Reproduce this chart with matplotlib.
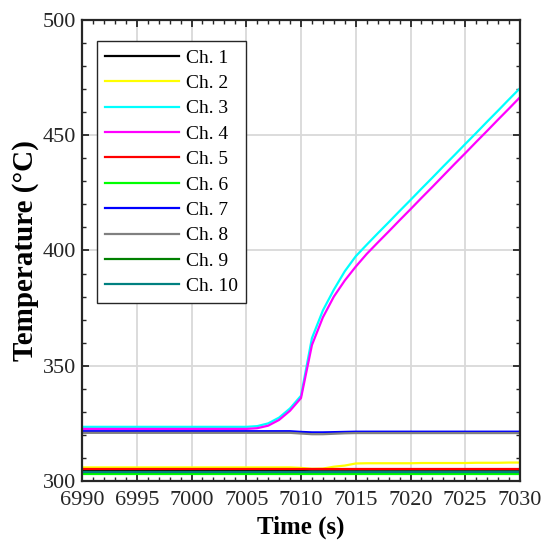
import matplotlib.pyplot as plt
import numpy as np
from matplotlib.ticker import MultipleLocator

plt.rcParams['font.family'] = ['Liberation Serif', 'DejaVu Serif']

t = np.arange(6990, 7031)

# flat part 6990-7005 then the rise (one value per second)
ch3_tail = [323.8, 325.0, 327.5, 331.5, 337.0, 362.0, 374.0, 383.0, 391.0, 397.5,
            402.5, 407.4, 412.2, 417.1, 421.9, 426.8, 431.6, 436.5, 441.3, 446.2,
            451.0, 455.9, 460.7, 465.6, 470.4]
ch4_tail = [322.9, 324.0, 326.5, 330.5, 336.0, 359.0, 371.0, 380.0, 387.0, 393.0,
            398.5, 403.4, 408.2, 413.1, 417.9, 422.8, 427.6, 432.5, 437.4, 442.2,
            447.1, 451.9, 456.8, 461.6, 466.5]
ch3 = [323.5] * 16 + ch3_tail
ch4 = [322.6] * 16 + ch4_tail

ch1 = [304.8] * 21 + [304.9] * 20
ch2 = [305.9] * 20 + [305.7, 305.3, 305.4, 306.2, 306.7, 307.6, 307.7, 307.7, 307.7, 307.7,
                      307.7, 307.8, 307.8, 307.8, 307.8, 307.8, 307.9, 307.9, 307.9, 308.0, 308.0]
ch5 = [305.2] * 41
ch6 = [303.2] * 41
ch7 = [321.6] * 20 + [321.3, 321.1, 321.1, 321.2, 321.3] + [321.4] * 16
ch8 = [320.9] * 20 + [320.6, 320.3, 320.3, 320.5, 320.7] + [320.8] * 16
ch9 = [304.0] * 41
ch10 = [303.7] * 41

series = [ch1, ch2, ch3, ch4, ch5, ch6, ch7, ch8, ch9, ch10]
labels = ['Ch. 1', 'Ch. 2', 'Ch. 3', 'Ch. 4', 'Ch. 5', 'Ch. 6', 'Ch. 7', 'Ch. 8', 'Ch. 9', 'Ch. 10']
colors = ['#000000', '#ffff00', '#00ffff', '#ff00ff', '#ff0000', '#00ff00',
          '#0000ff', '#808080', '#008000', '#008080']

fig = plt.figure(figsize=(5.42, 5.48), dpi=100)
ax = fig.add_axes([82 / 542, 1 - 481 / 548, 438 / 542, 461 / 548])

for y, lab, c in zip(series, labels, colors):
    ax.plot(t, y, color=c, lw=1.6, label=lab)

ax.set_xlim(6990, 7030)
ax.set_ylim(300, 500)
ax.xaxis.set_major_locator(MultipleLocator(5))
ax.xaxis.set_minor_locator(MultipleLocator(1))
ax.yaxis.set_major_locator(MultipleLocator(50))
ax.yaxis.set_minor_locator(MultipleLocator(10))
ax.grid(True, which='major', color='#d9d9d9', lw=1.3)
ax.set_axisbelow(True)
ax.tick_params(which='both', direction='in', top=True, right=True, labelsize=16, colors='#262626')
ax.tick_params(which='major', length=5, width=1.3)
ax.tick_params(which='minor', length=3, width=1.0)
ax.tick_params(axis='x', which='major', pad=7)
ax.tick_params(axis='y', which='major', pad=4)
for s in ax.spines.values():
    s.set_linewidth(1.6)
    s.set_color('#262626')

ax.set_xlabel('Time (s)', fontsize=18, fontweight='bold', labelpad=4)
ax.set_ylabel('Temperature (°C)', fontsize=21, fontweight='bold', labelpad=3)

leg = ax.legend(loc='upper left', bbox_to_anchor=(0.034, 0.954), borderaxespad=0,
                fontsize=14, fancybox=False, edgecolor='#262626', framealpha=1,
                handlelength=3.8, labelspacing=0.4, handletextpad=0.4, borderpad=0.4)
leg.get_frame().set_linewidth(1.0)

fig.savefig('out.png', dpi=100)
